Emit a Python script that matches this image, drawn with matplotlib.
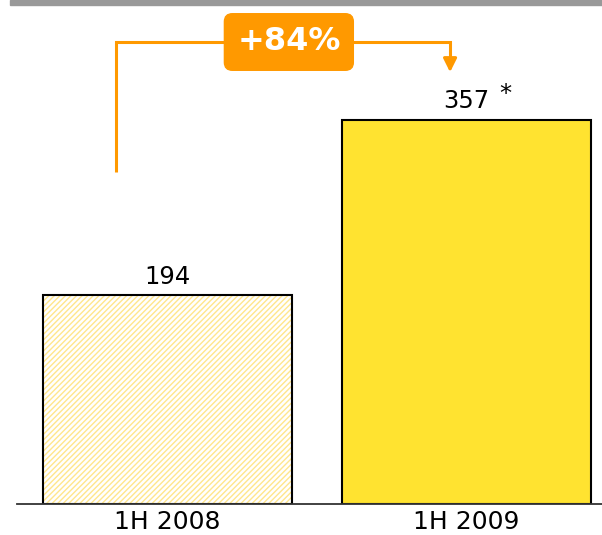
import numpy as np
import matplotlib
matplotlib.use("Agg")
import matplotlib.pyplot as plt
from matplotlib.patches import Rectangle

# data
periods = ["1H 2008", "1H 2009"]
values = [194, 357]
labels = ["194", "357"]
growth = "+84%"

ORANGE = "#FF9900"
YELLOW = "#FFE330"
HATCH = "#FFE68C"

plt.rcParams["font.family"] = ["DejaVu Sans"]

fig = plt.figure(figsize=(6.02, 5.35), dpi=100)
ax = fig.add_axes([17 / 602, 31 / 535, 585 / 602, 504 / 535])

x = np.arange(len(values))
w = 249 / 299

# first bar: hatched light yellow, second solid
ax.bar(x[0], values[0], width=w, color="white", edgecolor=HATCH, hatch="//////", linewidth=0)
ax.bar(x[0], values[0], width=w, fill=False, edgecolor="black", linewidth=1.5)
ax.bar(x[1], values[1], width=w, color=YELLOW, edgecolor="black", linewidth=1.5)

for xi, v, lab in zip(x, values, labels):
    ax.text(xi, v + 6, lab, ha="center", va="bottom", fontsize=17.5)
ax.annotate("*", xy=(x[1], values[1] + 6), xytext=(28, 5), textcoords="offset points",
            ha="center", va="bottom", fontsize=17.5)

ax.set_xlim(-0.503, 1.453)
ax.set_ylim(0, 468)

# growth bracket
x0, x1 = -0.172, 0.945
y_top = 429
ax.plot([x0, x0, x1, x1], [308, y_top, y_top, 412], color=ORANGE, lw=2.2,
        solid_joinstyle="miter", solid_capstyle="butt")
ax.annotate("", xy=(x1, 401), xytext=(x1, 414),
            arrowprops=dict(arrowstyle="-|>,head_length=0.8,head_width=0.4",
                            color=ORANGE, lw=2.2, shrinkA=0, shrinkB=0))
ax.text(0.406, y_top, growth, ha="center", va="center", color="white",
        fontsize=23, fontweight="bold",
        bbox=dict(boxstyle="round,pad=0.4,rounding_size=0.25", fc=ORANGE, ec=ORANGE))

ax.set_xticks(x)
ax.set_xticklabels(periods, fontsize=18)
ax.tick_params(axis="x", length=0, pad=4)
ax.set_yticks([])
for s in ["top", "left", "right"]:
    ax.spines[s].set_visible(False)
ax.spines["bottom"].set_color("#333333")
ax.spines["bottom"].set_linewidth(1.3)

# grey strip on top
fig.patches.append(Rectangle((10 / 602, 530 / 535), 592 / 602, 5 / 535,
                             transform=fig.transFigure, color="#999999"))

fig.savefig("out.png", dpi=100)
